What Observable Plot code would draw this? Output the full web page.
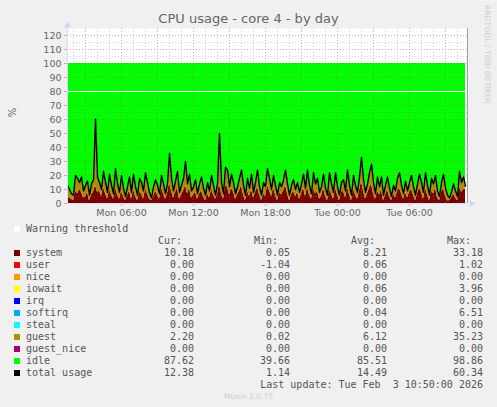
<!DOCTYPE html>
<html><head><meta charset="utf-8">
<script src="https://cdn.jsdelivr.net/npm/d3@7"></script>
<script src="https://cdn.jsdelivr.net/npm/@observablehq/plot@0.6"></script>
<style>
html,body{margin:0;padding:0;background:#f0f0f0;width:497px;height:407px;overflow:hidden}
#wrap{position:relative;width:497px;height:407px}
#wrap svg{position:absolute;left:0;top:0;background:transparent}
.t{position:absolute;white-space:pre}
#title{left:0;width:497px;text-align:center;top:11px;font:13px "DejaVu Sans";color:#666}
#unit{left:8px;top:107px;font:10px "DejaVu Sans";color:#555;transform:rotate(-90deg);transform-origin:center}
#rrd{left:483px;top:5px;font:7.5px "DejaVu Sans";color:#ccc;writing-mode:vertical-rl;letter-spacing:.1px}
#munin{left:0;width:497px;text-align:center;top:392px;font:7.5px "DejaVu Sans";color:#ccc}
.row{position:absolute;left:0;width:497px;height:12px;font:10px/12px "DejaVu Sans Mono";color:#555}
.row i{position:absolute;left:14px;top:3px;width:6px;height:6px}
.row span{position:absolute;white-space:pre}
</style></head><body><div id="wrap"></div>
<script>
const seriesNames=["system","user","nice","iowait","irq","softirq","steal","guest","guest_nice","idle","total usage"];
const seriesColors=["#7a0000","#ff0000","#ff9900","#ffff00","#0000ff","#00aaff","#00ffff","#ad8f00","#aa0077","#00ff00","#000000"];
const cur=["10.18","0.00","0.00","0.00","0.00","0.00","0.00","2.20","0.00","87.62","12.38"];
const min=["0.05","-1.04","0.00","0.00","0.00","0.00","0.00","0.02","0.00","39.66","1.14"];
const avg=["8.21","0.06","0.00","0.06","0.00","0.04","0.00","6.12","0.00","85.51","14.49"];
const max=["33.18","1.02","0.00","3.96","0.00","6.51","0.00","35.23","0.00","98.86","60.34"];
const total=[13,10,7,6,20,18,15,19,9,13,
16,6,14,17,60.3,19,15,10,23,15,
8,21,13,7,25,14,8,20,11,5,
12,19,8,21,12,6,18,15,9,22,
15,8,4,12,17,13,7,20,14,7,
14,36,18,9,16,23,8,13,18,30,
14,21,9,12,17,7,14,19,11,6,
15,9,20,13,6,14,50,15,7,26,
24,12,21,15,7,12,18,24,13,6,
18,11,21,8,15,24,12,6,15,12,
25,18,10,20,13,6,15,12,17,24,
14,6,13,17,10,15,8,14,21,11,
24,13,7,22,14,18,8,12,21,11,
6,22,14,8,22,12,6,15,17,9,
24,13,6,20,13,8,19,33,17,8,
14,22,28,15,7,19,12,19,6,13,
19,11,5,13,9,18,22,13,7,16,
9,15,20,12,6,14,21,15,8,22,
13,6,18,14,20,9,5,15,21,11,
6,4,8,14,9,5,23,15,19,12.38];
const system=[5,4,3,2,9,7,10,8,4,5,
8,2,6,8,13,8,9,5,12,7,
3,10,6,3,11,6,3,9,5,2,
6,9,3,10,5,2,8,7,3,10,
7,3,2,5,9,6,3,11,7,3,
7,15,9,4,8,11,3,6,9,13,
7,11,4,6,8,3,7,9,5,2,
7,4,10,6,3,7,14,7,3,12,
12,6,11,8,3,6,9,13,6,2,
9,5,10,4,8,12,6,2,7,5,
13,9,5,11,6,2,8,6,9,13,
7,2,6,9,5,8,3,7,11,5,
12,6,3,11,7,9,3,5,11,5,
2,10,7,3,11,6,2,8,9,4,
12,6,2,10,6,3,9,16,9,3,
7,11,14,7,3,9,6,10,2,6,
10,5,2,7,4,9,11,7,3,8,
4,8,10,6,2,7,11,8,3,11,
6,2,9,7,11,4,2,8,11,5,
2,2,4,7,4,2,12,8,10,10.18];
const xStart=new Date(Date.UTC(2026,1,2,1,30));
const xEnd=new Date(Date.UTC(2026,1,3,10,50));
const stepMin=10;
const rows=total.map((t,i)=>({t:new Date(+xStart+i*stepMin*60000),total:t,system:system[i]}));
const warning=[80];
const yLabels=d3.range(0,121,10), yMinor=d3.range(5,125,10);
const hourly=d3.utcHour.range(xStart,xEnd);
const h3=hourly.filter(d=>d.getUTCHours()%3===0);
const h6=hourly.filter(d=>d.getUTCHours()%6===0);
const chart=Plot.plot({
  width:497,height:220,marginLeft:67,marginRight:30,marginTop:28,marginBottom:17,
  style:{background:"transparent",fontFamily:"DejaVu Sans",fontSize:"9.5px",color:"#666"},
  x:{type:"utc",domain:[xStart,xEnd]},
  y:{domain:[0,125]},
  marks:[
    Plot.frame({fill:"#fff",stroke:null}),
    Plot.areaY(rows,{x:"t",y1:0,y2:"system",fill:seriesColors[0]}),
    Plot.areaY(rows,{x:"t",y1:"system",y2:"total",fill:seriesColors[7]}),
    Plot.areaY(rows,{x:"t",y1:"total",y2:100,fill:seriesColors[9]}),
    Plot.ruleX(hourly.filter(d=>d.getUTCHours()%3!==0),{stroke:"#808080",strokeOpacity:.35,strokeDasharray:"1,2"}),
    Plot.ruleY(yMinor,{stroke:"#808080",strokeOpacity:.35,strokeDasharray:"1,2"}),
    Plot.ruleX(h3,{stroke:"#c04040",strokeOpacity:.45,strokeDasharray:"1,2"}),
    Plot.ruleY(yLabels,{stroke:"#c04040",strokeOpacity:.45,strokeDasharray:"1,2"}),
    Plot.ruleY(warning,{stroke:"#fff",strokeWidth:1}),
    Plot.line(rows,{x:"t",y:"total",stroke:seriesColors[10],strokeWidth:1.4}),
    Plot.axisY({ticks:yLabels,tickSize:3,tickPadding:3,stroke:"#d8a8a8",label:null,fill:"#666"}),
    Plot.axisX({ticks:h6,tickSize:3,tickPadding:3,stroke:"#d8a8a8",label:null,tickFormat:d3.utcFormat("%a %H:%M"),fill:"#666"}),
    Plot.ruleX([xStart],{stroke:"#d4dcf8"}),
    Plot.ruleY([0],{stroke:"#d4dcf8"}),
    Plot.ruleX([xEnd],{stroke:"#a0a0a0"}),
    Plot.dot([{x:xStart,y:125}],{x:"x",y:"y",symbol:"triangle",r:2.6,fill:"#ccd6fa",dy:-3}),
    Plot.dot([{x:xEnd,y:0}],{x:"x",y:"y",symbol:"triangle",r:2.6,fill:"#ccd6fa",rotate:90,dx:4})
  ]
});
const wrap=document.getElementById("wrap");
wrap.appendChild(chart);
function text(id,s){const d=document.createElement("div");d.className="t";d.id=id;d.textContent=s;wrap.appendChild(d);return d}
text("title","CPU usage - core 4 - by day");
text("unit","%");
text("rrd","RRDTOOL / TOBI OETIKER");
text("munin","Munin 2.0.75");
function row(top,swatch,name,vals){
  const r=document.createElement("div");r.className="row";r.style.top=top+"px";
  if(swatch){const i=document.createElement("i");i.style.background=swatch;r.appendChild(i)}
  const add=(s,l,rt)=>{const e=document.createElement("span");e.textContent=s;if(l!=null)e.style.left=l+"px";if(rt!=null)e.style.right=(497-rt)+"px";r.appendChild(e)};
  if(name)add(name,26);
  vals.forEach(v=>add(v[0],null,v[1]));
  wrap.appendChild(r);
}
row(223,"#ffffff","Warning threshold",[]);
row(235,null,null,[["Cur:",182],["Min:",278],["Avg:",375],["Max:",471]]);
seriesNames.forEach((n,i)=>row(247+12*i,seriesColors[i],n,[[cur[i],194],[min[i],290],[avg[i],387],[max[i],483]]));
row(379,null,null,[["Last update: Tue Feb  3 10:50:00 2026",483]]);
</script></body></html>
